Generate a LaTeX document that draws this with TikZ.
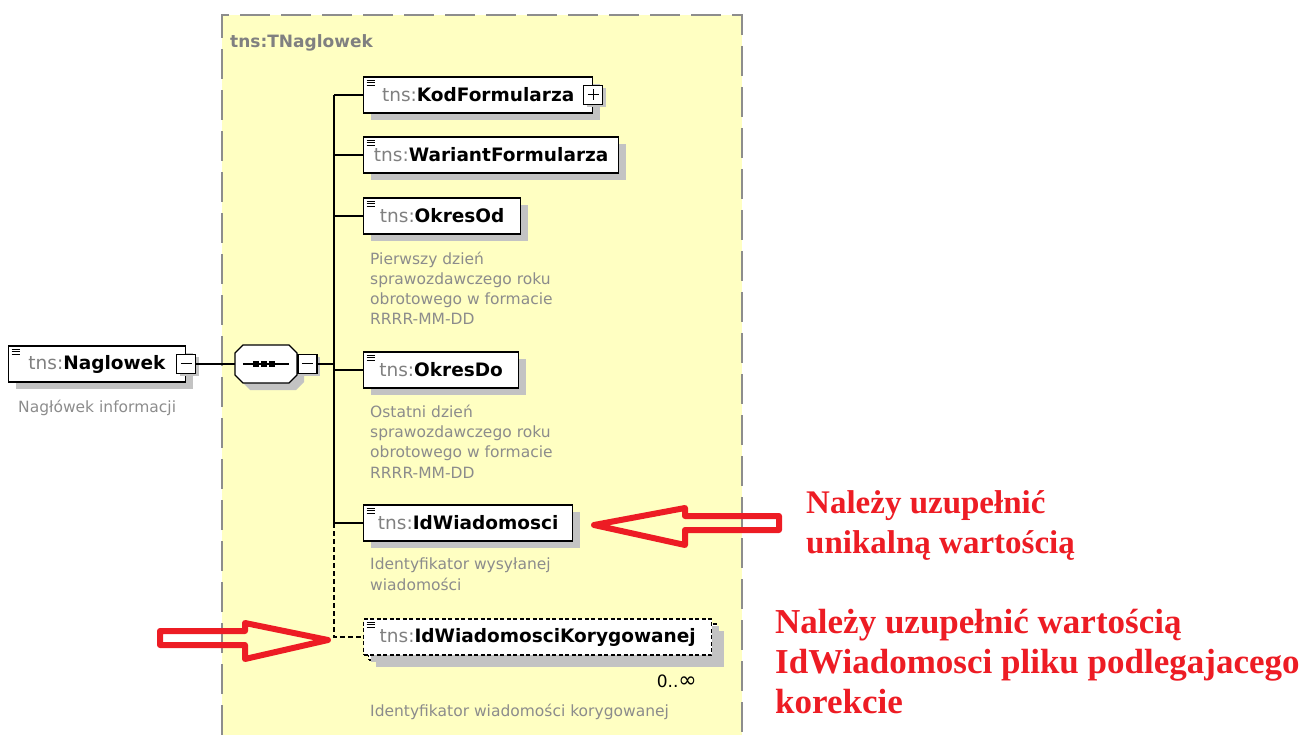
\documentclass[tikz,border=0pt]{standalone}
\usepackage{fontspec}
\setmainfont{DejaVu Sans}
\newfontfamily\notefont{Liberation Serif}
\usetikzlibrary{shadows}
\definecolor{xsdyellow}{RGB}{255,255,194}
\definecolor{xsdgrey}{RGB}{128,128,128}
\definecolor{descgrey}{RGB}{140,140,140}
\definecolor{shadowgrey}{RGB}{195,195,195}
\definecolor{markred}{RGB}{237,28,36}
\newcommand{\tns}[1]{{\color{xsdgrey}tns:}\textbf{#1}}
\tikzset{
  elem/.style={draw, line width=1.3pt, fill=white, anchor=west, minimum height=36pt,
    inner sep=0pt, font=\fontsize{18.5}{21}\selectfont,
    drop shadow={shadow xshift=7pt, shadow yshift=-7pt, fill=shadowgrey, opacity=1},
    path picture={\foreach \k in {3pt,5.5pt,8pt}
      \draw[solid, line width=0.9pt] ([xshift=3pt,yshift=-\k]path picture bounding box.north west) -- ++(8pt,0);}},
  optelem/.style={elem, dashed, dash pattern=on 4pt off 2.5pt},
  tgl/.style={draw, line width=1.3pt, fill=white, minimum width=19pt, minimum height=19pt, inner sep=0pt,
    drop shadow={shadow xshift=3pt, shadow yshift=-3pt, fill=shadowgrey, opacity=1}},
  minus/.style={tgl, path picture={\draw[line width=1pt] ([xshift=4pt]path picture bounding box.west) -- ([xshift=-4pt]path picture bounding box.east);}},
  plus/.style={tgl, path picture={\draw[line width=1pt] ([xshift=4pt]path picture bounding box.west) -- ([xshift=-4pt]path picture bounding box.east);
    \draw[line width=1pt] ([yshift=-4pt]path picture bounding box.north) -- ([yshift=4pt]path picture bounding box.south);}},
  seqbox/.style={minimum width=62pt, minimum height=38pt, inner sep=0pt},
  conn/.style={line width=1.2pt},
  desc/.style={anchor=base west, align=left, inner sep=0pt, text=descgrey, font=\fontsize{15.5}{20.3}\selectfont},
  note/.style={anchor=base west, align=left, inner sep=0pt, text=markred, font=\notefont\bfseries\fontsize{33}{40}\selectfont},
  markarrow/.style={draw=markred, line width=6pt, line join=round}
}
\begin{document}
\begin{tikzpicture}[x=1pt,y=-1pt]
\useasboundingbox (0,0) rectangle (1307,735);
\fill[xsdyellow] (222,15) rectangle (742,735);
\draw[xsdgrey!90, line width=1.3pt, dash pattern=on 30pt off 11pt] (222,735) -- (222,15) -- (742,15) -- (742,735);
\node[anchor=base west, inner sep=0pt, text=xsdgrey, font=\bfseries\fontsize{17}{19}\selectfont] (regiontitle) at (230,48) {tns:TNaglowek};

\node[elem, minimum width=177pt] (nag) at (8,364) {\tns{Naglowek}};
\node[minus] (nagtgl) at (nag.east) {};
\node[desc] (nagdesc) at (18,412) {Nagłówek informacji};

% sequence compositor
\node[seqbox] (seq) at (266,364) {};
\begin{scope}[shift={(seq.center)}]
\fill[shadowgrey, shift={(7,7)}] (-23,-19) -- (23,-19) -- (31,-11) -- (31,11) -- (23,19) -- (-23,19) -- (-31,11) -- (-31,-11) -- cycle;
\filldraw[fill=white, line width=1.3pt] (-23,-19) -- (23,-19) -- (31,-11) -- (31,11) -- (23,19) -- (-23,19) -- (-31,11) -- (-31,-11) -- cycle;
\end{scope}
\node[minus, anchor=west] (seqtgl) at (seq.east) {};
\draw[line width=1.2pt] ([xshift=8pt]seq.west) -- ([xshift=-8pt]seq.east);
\foreach \dx in {-10pt,-2pt,6pt}
  \fill ([xshift=\dx]seq.center) +(-3,-3) rectangle +(3,3);
\coordinate (spine) at (334,364);

\node[elem, minimum width=229pt] (kod) at (363,95) {\tns{KodFormularza}};
\node[plus] (kodtgl) at (kod.east) {};
\node[elem, minimum width=255pt] (wariant) at (363,155) {\tns{WariantFormularza}};
\node[elem, minimum width=157pt] (okresod) at (363,216) {\tns{OkresOd}};
\node[desc] (okresoddesc) at (370,325) {Pierwszy dzień\\sprawozdawczego roku\\obrotowego w formacie\\RRRR-MM-DD};
\node[elem, minimum width=155pt] (okresdo) at (363,370) {\tns{OkresDo}};
\node[desc] (okresdodesc) at (370,478) {Ostatni dzień\\sprawozdawczego roku\\obrotowego w formacie\\RRRR-MM-DD};
\node[elem, minimum width=209pt] (idw) at (363,523) {\tns{IdWiadomosci}};
\node[desc] (idwdesc) at (370,590) {Identyfikator wysyłanej\\wiadomości};
\node[optelem, minimum width=348pt] (idkorback) at (368,642) {};
\node[optelem, minimum width=348pt, drop shadow={opacity=0}] (idkor) at (363,637) {\tns{IdWiadomosciKorygowanej}};
\node[anchor=base east, inner sep=0pt, font=\fontsize{17}{19}\selectfont] (idkormult) at (697,687) {0..{\fontsize{22}{19}\selectfont∞}};
\node[desc] (idkordesc) at (370,716) {Identyfikator wiadomości korygowanej};

\draw[conn] (nagtgl.east) -- (seq.west);
\draw[conn] (seqtgl.east) -- (spine);
\draw[conn] (kod.west -| spine) -- (idw.west -| spine);
\foreach \n in {kod,wariant,okresod,okresdo,idw}
  \draw[conn] (\n.west -| spine) -- (\n.west);
\draw[conn, dash pattern=on 5pt off 3pt] (idw.west -| spine) -- (idkor.west -| spine) -- (idkor.west);

\draw[markarrow] (594,525) -- (685,508) -- (685,516) -- (779,516) -- (779,530) -- (685,530) -- (685,545) -- cycle;
\draw[markarrow] (328,640) -- (245,659) -- (245,645) -- (160,645) -- (160,631) -- (245,631) -- (245,623) -- cycle;
\node[note] (note1) at (806,553) {Należy uzupełnić\\unikalną wartością};
\node[note, font=\notefont\bfseries\fontsize{35}{40}\selectfont] (note2) at (775,713) {Należy uzupełnić wartością\\IdWiadomosci pliku podlegajacego\\korekcie};
\end{tikzpicture}
\end{document}
